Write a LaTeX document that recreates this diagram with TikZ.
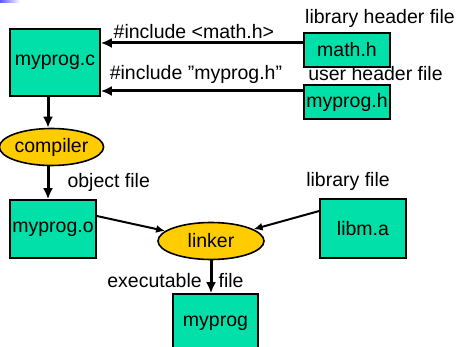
\documentclass[tikz,border=0pt]{standalone}
\usepackage{fontspec}
\setmainfont{Liberation Sans}
\usepackage{xcolor}
\usepackage{tikz}
\usetikzlibrary{shapes.geometric, arrows.meta, positioning, backgrounds}
\definecolor{filegreen}{RGB}{0,224,168}
\definecolor{toolgold}{RGB}{255,204,0}
\tikzstyle{file} = [rectangle, draw=black, line width=1.6pt, fill=filegreen, inner sep=0pt, text centered]
\tikzstyle{tool} = [ellipse, draw=black, line width=1.6pt, fill=toolgold, inner sep=0pt, minimum width=102pt, minimum height=37pt]
\tikzstyle{tag} = [inner sep=0pt]
\tikzstyle{arrow} = [line width=3pt, -{Latex[length=11pt,width=10pt]}]
\tikzstyle{thinarrow} = [line width=2pt, -{Latex[length=9pt,width=8pt]}]

\begin{document}
\begin{tikzpicture}[x=1pt, y=-1pt, font=\fontsize{19.5}{22}\selectfont]
\useasboundingbox (0,0) rectangle (458,347);
\shade[left color=blue!65, right color=white] (0,0) rectangle (20,3);

% source, headers and build steps
\node [file, minimum width=90pt, minimum height=67pt] (mc) at (55,62.5) {myprog.c};
\node [file, minimum width=86pt, minimum height=34pt] (mathh) at (347,50) {math.h};
\node [file, minimum width=86pt, minimum height=34pt] (myh) at (347,102) {myprog.h};
\node [tool] (cc) at (51.5,147) {compiler};
\node [file, minimum width=86pt, minimum height=58pt] (mo) at (53,229) {myprog.o};
\node [file, minimum width=86pt, minimum height=59pt] (libm) at (363,228.5) {libm.a};
\node [tool, minimum width=106pt] (ld) at (211,241) {linker};
\node [file, minimum width=85pt, minimum height=58pt] (exe) at (215.5,323) {myprog};

% captions sit behind the boxes
\begin{scope}[on background layer]
\node [tag, above=4pt of mathh, xshift=33pt] (libhdr) {library header file};
\node [tag, below=-2pt of mathh, xshift=28.5pt] (usrhdr) {user header file};
\node [tag, above=7pt of libm, xshift=-15pt] (libtag) {library file};
\end{scope}

\draw [arrow] ([yshift=7pt]mathh.west) -- ([yshift=7pt]mathh.west -| mc.east)
    node [tag, pos=0.54, above=3pt] {\#include <math.h>};
\draw [arrow] ([yshift=11pt]myh.west) -- ([yshift=11pt]myh.west -| mc.east)
    node [tag, pos=0.53, above=6pt] {\#include ”myprog.h”};
\draw [arrow] ([xshift=-7pt]mc.south) -- ([xshift=-7pt]mc.south |- cc.north);
\draw [arrow] ([xshift=-3.5pt]cc.south) -- ([xshift=-3.5pt]cc.south |- mo.north)
    node [tag, midway, right=18pt] {object file};
\draw [thinarrow] ([yshift=13pt]mo.east) -- (ld);
\draw [thinarrow] ([yshift=17.5pt]libm.west) -- (ld);
\draw [arrow] (ld.south) -- (ld.south |- exe.north)
    node [tag, pos=0.6, xshift=-35.5pt] {executable\hspace{17pt}file};
\end{tikzpicture}
\end{document}
